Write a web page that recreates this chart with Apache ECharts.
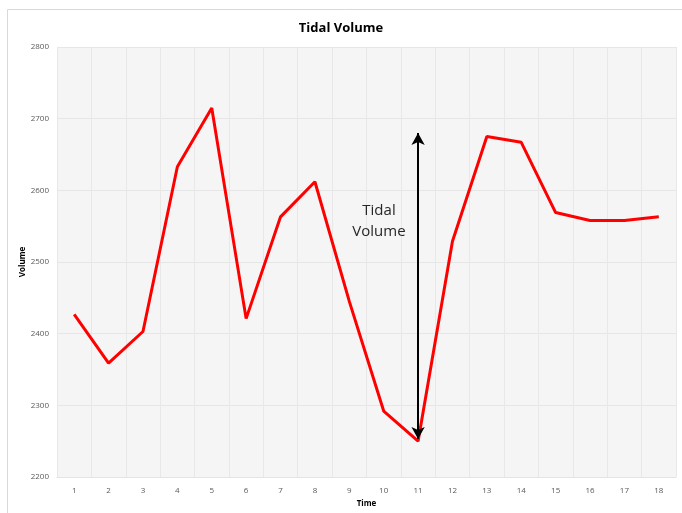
<!DOCTYPE html>
<html>
<head>
<meta charset="utf-8">
<script src="https://cdn.jsdelivr.net/npm/echarts@6/dist/echarts.min.js"></script>
<style>
  html, body { margin: 0; padding: 0; background: #fff; }
  #chart { width: 682px; height: 513px; }
</style>
</head>
<body>
<div id="chart"></div>
<script>
// values
var times = ['1', '2', '3', '4', '5', '6', '7', '8', '9', '10', '11', '12', '13', '14', '15', '16', '17', '18'];
var volume = [2427, 2359, 2403, 2633, 2715, 2421, 2563, 2612, 2445, 2292, 2250, 2529, 2675, 2667, 2569, 2558, 2558, 2563];
// arrow spans from the trough up to the peak level
var arrowTop = 2680;
var arrowBottom = 2253;
var arrowAt = '11';

var chart = echarts.init(document.getElementById('chart'));

chart.setOption({
    animation: false,
    backgroundColor: '#fff',
    title: {
        text: 'Tidal Volume',
        left: 'center',
        top: 17,
        textStyle: {
            fontFamily: 'Open Sans',
            fontSize: 13,
            fontWeight: 'bold',
            color: '#000'
        }
    },
    grid: {
        left: 57,
        right: 6,
        top: 47,
        bottom: 35,
        show: true,
        backgroundColor: '#f5f5f5',
        borderWidth: 0
    },
    xAxis: {
        type: 'category',
        data: times,
        boundaryGap: true,
        name: 'Time',
        nameLocation: 'middle',
        nameGap: 23,
        nameMoveOverlap: false,
        nameTextStyle: {
            fontFamily: 'Open Sans',
            fontSize: 8,
            fontWeight: 'bold',
            color: '#000'
        },
        axisLine: { show: true, lineStyle: { color: '#e4e4e4' } },
        axisTick: { show: false },
        axisLabel: {
            fontFamily: 'Open Sans',
            fontSize: 8,
            color: '#595959',
            margin: 10
        },
        splitLine: {
            show: true,
            interval: 0,
            lineStyle: { color: '#e8e8e8', width: 1 }
        }
    },
    yAxis: {
        type: 'value',
        min: 2200,
        max: 2800,
        interval: 100,
        name: 'Volume',
        nameLocation: 'middle',
        nameGap: 30,
        nameMoveOverlap: false,
        nameTextStyle: {
            fontFamily: 'Open Sans',
            fontSize: 8,
            fontWeight: 'bold',
            color: '#000'
        },
        axisLine: { show: false },
        axisTick: { show: false },
        axisLabel: {
            fontFamily: 'Open Sans',
            fontSize: 8,
            color: '#595959',
            margin: 8,
            formatter: function (v) { return String(v); }
        },
        splitLine: { lineStyle: { color: '#e6e6e6', width: 1 } }
    },
    series: [
        {
            type: 'line',
            data: volume,
            symbol: 'none',
            lineStyle: { color: '#ff0000', width: 3 },
            itemStyle: { color: '#ff0000' },
            markLine: {
                silent: true,
                symbol: ['arrow', 'arrow'],
                symbolSize: [10, 12],
                lineStyle: { color: '#000', width: 2, type: 'solid' },
                label: { show: false },
                data: [[
                    { coord: [arrowAt, arrowTop] },
                    { coord: [arrowAt, arrowBottom] }
                ]]
            }
        }
    ],
    graphic: [
        {
            type: 'rect',
            shape: { x: 7.5, y: 9.5, width: 680, height: 510 },
            style: { fill: 'none', stroke: '#d9d9d9', lineWidth: 1 },
            z: 0
        },
        {
            type: 'text',
            x: 379,
            y: 200,
            style: {
                text: 'Tidal\nVolume',
                textAlign: 'center',
                fontFamily: 'Open Sans',
                fontSize: 15,
                lineHeight: 21,
                fill: '#262626'
            },
            z: 10
        }
    ]
});
</script>
</body>
</html>
